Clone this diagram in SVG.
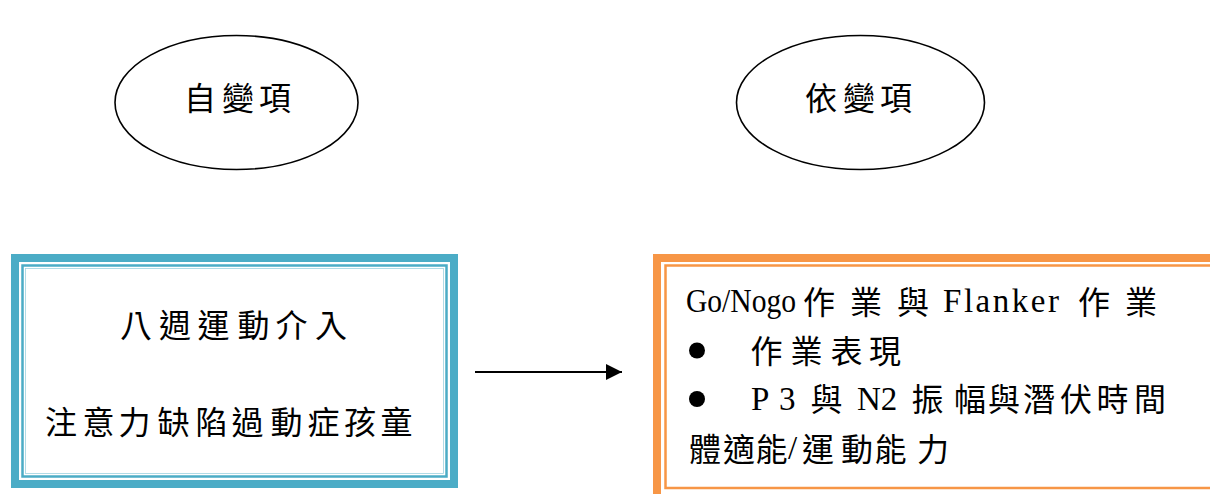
<svg xmlns="http://www.w3.org/2000/svg" width="1210" height="494" viewBox="0 0 1210 494">
  <style>
    .cjk { font-family: "Noto Sans CJK TC", "Noto Sans CJK SC", sans-serif; font-size: 32px; fill: #000; }
    .lat { font-family: "Liberation Serif", "Noto Sans CJK TC", serif; font-size: 33px; fill: #000; }
    .ell { fill: #fff; stroke: #000; stroke-width: 1.6; }
    .conn { stroke: #000; stroke-width: 2; fill: none; }
  </style>
  <defs>
    <marker id="arrow" viewBox="0 0 16 16" refX="16" refY="8" markerWidth="16" markerHeight="16" markerUnits="userSpaceOnUse" orient="auto">
      <path d="M0,0 L16,8 L0,16 Z" fill="#000"/>
    </marker>
  </defs>
  <rect width="1210" height="494" fill="#fff"/>

  <g id="node-independent">
    <ellipse class="ell" cx="236.5" cy="102.5" rx="121.5" ry="67"/>
    <text class="cjk" x="184 222 259" y="110">自變項</text>
  </g>

  <g id="node-dependent">
    <ellipse class="ell" cx="860.5" cy="102.5" rx="124" ry="67"/>
    <text class="cjk" x="805 843 880" y="110">依變項</text>
  </g>

  <g id="node-intervention">
    <rect x="15" y="258" width="439" height="226" fill="#fff" stroke="#4BACC6" stroke-width="8"/>
    <rect x="22.5" y="265.5" width="424" height="211" fill="none" stroke="#4BACC6" stroke-width="2.5"/>
    <rect x="25.5" y="268.5" width="418" height="205" fill="none" stroke="#9fd3e0" stroke-width="0.8"/>
    <text class="cjk" x="120 159 197.5 237.5 275.5 315" y="337">八週運動介入</text>
    <text class="cjk" x="45 82.5 118.5 157.5 195.5 231.5 270.5 307.5 344 380.5" y="434">注意力缺陷過動症孩童</text>
  </g>

  <g id="node-outcomes">
    <rect x="657" y="258" width="570" height="245" fill="#fff" stroke="#F79646" stroke-width="8"/>
    <rect x="665.5" y="265.5" width="560" height="222.5" fill="none" stroke="#F79646" stroke-width="2.5"/>
    <text class="lat" x="686" y="312" textLength="110" lengthAdjust="spacingAndGlyphs">Go/Nogo</text>
    <text class="cjk" x="803 850 897" y="314">作業與</text>
    <text class="lat" x="943" y="312" textLength="116" lengthAdjust="spacing">Flanker</text>
    <text class="cjk" x="1078 1125" y="314">作業</text>

    <circle cx="697" cy="350.5" r="8"/>
    <text class="cjk" x="750.5 790.5 830.5 869" y="363">作業表現</text>

    <circle cx="697" cy="399" r="8"/>
    <text class="lat" x="751" y="410">P</text>
    <text class="lat" x="779" y="410">3</text>
    <text class="cjk" x="810.5" y="411">與</text>
    <text class="lat" x="857" y="410">N2</text>
    <text class="cjk" x="911.5 954 988 1023 1060 1096.5 1134" y="411">振幅與潛伏時間</text>

    <text class="cjk" x="689 723 755.5" y="461">體適能</text>
    <text class="lat" x="788" y="459">/</text>
    <text class="cjk" x="802 841 874.5 917" y="461">運動能力</text>
  </g>

  <g id="connectors">
    <line class="conn" x1="475" y1="372" x2="622" y2="372" marker-end="url(#arrow)"/>
  </g>
</svg>
